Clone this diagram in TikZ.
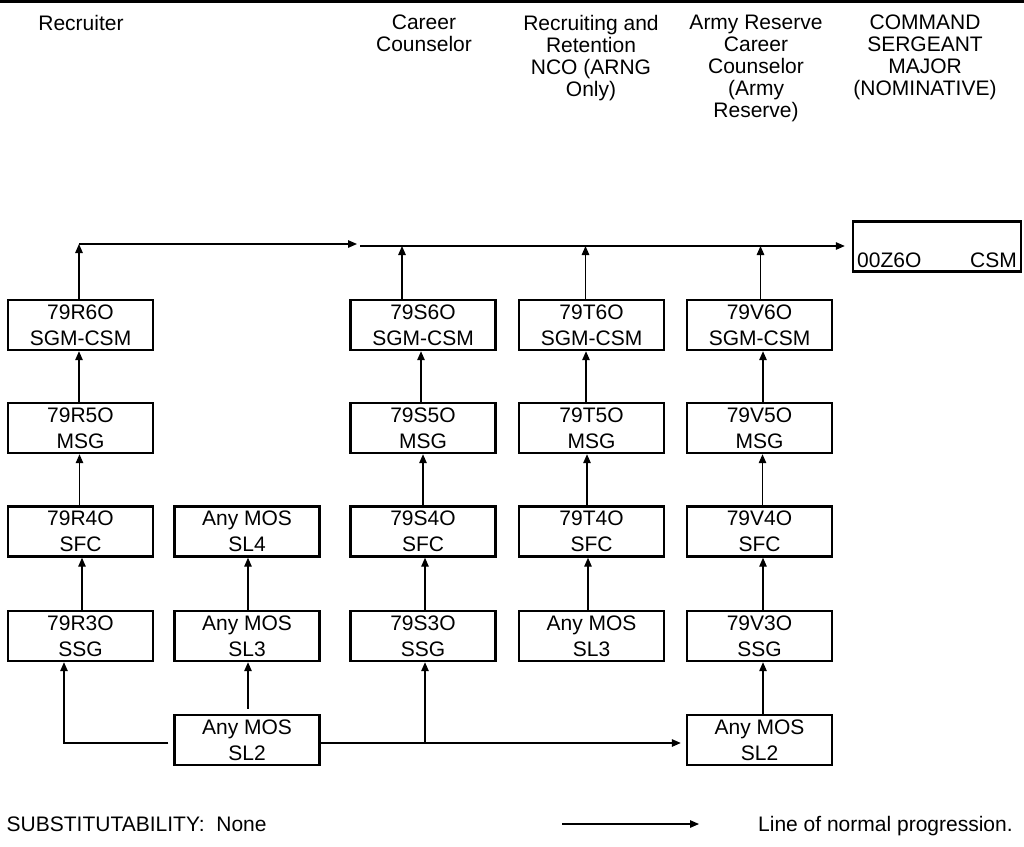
\documentclass[tikz,border=0pt]{standalone}
\usepackage{fontspec}
\setmainfont{Liberation Sans}
\usetikzlibrary{arrows.meta}
\begin{document}
\begin{tikzpicture}[x=1pt,y=-1pt,
 box/.style={draw,line width=2.4pt,minimum width=145pt,minimum height=50pt,inner sep=0pt,align=center,font=\fontsize{21}{26}\selectfont},
 arr/.style={line width=1.3pt,-{Triangle[length=9pt,width=7.5pt]}},
 conn/.style={line width=1.3pt},
 head/.style={align=center,font=\fontsize{21}{22}\selectfont,inner sep=0pt,anchor=north},
 txt/.style={font=\fontsize{21}{26}\selectfont,inner sep=0pt,anchor=base west},
 txte/.style={font=\fontsize{21}{26}\selectfont,inner sep=0pt,anchor=base east}]
\useasboundingbox (0,0) rectangle (1024,846);
% top rule
\draw[line width=2.7pt] (0,1.35) -- (1024,1.35);
% headers
\node[head] (h1) at (81,15) {Recruiter};
\node[head] (h2) at (424,15) {Career\\Counselor};
\node[head] (h3) at (591,15) {Recruiting and\\Retention\\NCO (ARNG\\Only)};
\node[head] (h4) at (756,15) {Army Reserve\\Career\\Counselor\\(Army\\Reserve)};
\node[head] (h5) at (925,15) {COMMAND\\SERGEANT\\MAJOR\\(NOMINATIVE)};
% boxes
\node[box] (r6) at (80.5,325) {79R6O\\SGM-CSM};
\node[box] (r5) at (80.5,428) {79R5O\\MSG};
\node[box] (r4) at (80.5,531.5) {79R4O\\SFC};
\node[box] (r3) at (80.5,636) {79R3O\\SSG};
\node[box] (m4) at (247,531.5) {Any MOS\\SL4};
\node[box] (m3) at (247,636) {Any MOS\\SL3};
\node[box] (m2) at (247,740) {Any MOS\\SL2};
\node[box] (s6) at (423,325) {79S6O\\SGM-CSM};
\node[box] (s5) at (423,428) {79S5O\\MSG};
\node[box] (s4) at (423,531.5) {79S4O\\SFC};
\node[box] (s3) at (423,636) {79S3O\\SSG};
\node[box] (t6) at (591.5,325) {79T6O\\SGM-CSM};
\node[box] (t5) at (591.5,428) {79T5O\\MSG};
\node[box] (t4) at (591.5,531.5) {79T4O\\SFC};
\node[box] (tm3) at (591.5,636) {Any MOS\\SL3};
\node[box] (v6) at (759.5,325) {79V6O\\SGM-CSM};
\node[box] (v5) at (759.5,428) {79V5O\\MSG};
\node[box] (v4) at (759.5,531.5) {79V4O\\SFC};
\node[box] (v3) at (759.5,636) {79V3O\\SSG};
\node[box] (vm2) at (759.5,740) {Any MOS\\SL2};
\node[box,minimum width=168pt] (csm) at (937,246.5) {};
\node[txt] (csmcode) at (857,267) {00Z6O};
\node[txte] (csmrank) at (1017,267) {CSM};
% top progression line
\coordinate (ra) at (79,244);
\coordinate (rb) at (357,244);
\coordinate (sa) at (360,246);
\draw[arr] ([xshift=-1.5pt]r6.north) -- ([xshift=-1.5pt]r6.north |- ra);
\draw[arr] (ra) -- (rb);
\draw[arr,shorten >=7pt] (sa) -- (sa -| csm.west);
\draw[arr] ([xshift=-21pt]s6.north) -- ([xshift=-21pt]s6.north |- sa);
\draw[arr] ([xshift=-6pt]t6.north) -- ([xshift=-6pt]t6.north |- sa);
\draw[arr] ([xshift=1pt]v6.north) -- ([xshift=1pt]v6.north |- sa);
% column arrows
\draw[arr] ([xshift=-1.5pt]r5.north) -- ([xshift=-1.5pt]r6.south);
\draw[arr] ([xshift=-1pt]r4.north) -- ([xshift=-1pt]r5.south);
\draw[arr] ([xshift=1.5pt]r3.north) -- ([xshift=1.5pt]r4.south);
\draw[arr] ([xshift=1pt]m3.north) -- ([xshift=1pt]m4.south);
\draw[arr] ([xshift=1pt,yshift=5pt]m2.north) -- ([xshift=1pt]m3.south);
\draw[arr] ([xshift=-2pt]s5.north) -- ([xshift=-2pt]s6.south);
\draw[arr] (s4.north) -- (s5.south);
\draw[arr] ([xshift=2pt]s3.north) -- ([xshift=2pt]s4.south);
\draw[arr] ([xshift=-5.5pt]t5.north) -- ([xshift=-5.5pt]t6.south);
\draw[arr] ([xshift=-4.5pt]t4.north) -- ([xshift=-4.5pt]t5.south);
\draw[arr] ([xshift=-3.5pt]tm3.north) -- ([xshift=-3.5pt]t4.south);
\draw[arr] ([xshift=3.5pt]v5.north) -- ([xshift=3.5pt]v6.south);
\draw[arr] ([xshift=3pt]v4.north) -- ([xshift=3pt]v5.south);
\draw[arr] ([xshift=3.5pt]v3.north) -- ([xshift=3.5pt]v4.south);
\draw[arr] ([xshift=3.5pt]vm2.north) -- ([xshift=3.5pt]v3.south);
% bottom connectors
\coordinate (j) at (425,743);
\draw[arr] ([xshift=-5pt,yshift=-3pt]m2.west) -| ([xshift=-16.5pt]r3.south);
\draw[conn] ([yshift=-3pt]m2.east) -- (j);
\draw[arr] (j) -- ([xshift=2pt]s3.south);
\draw[arr,shorten >=5pt] (j) -- (j -| vm2.west);
% legend
\coordinate (la) at (562,824);
\coordinate (lb) at (699,824);
\draw[arr] (la) -- (lb);
\node[txt] (sub) at (6.5,831) {SUBSTITUTABILITY:\ \ None};
\node[txt] (legtxt) at (758,831) {Line of normal progression.};
\end{tikzpicture}
\end{document}
